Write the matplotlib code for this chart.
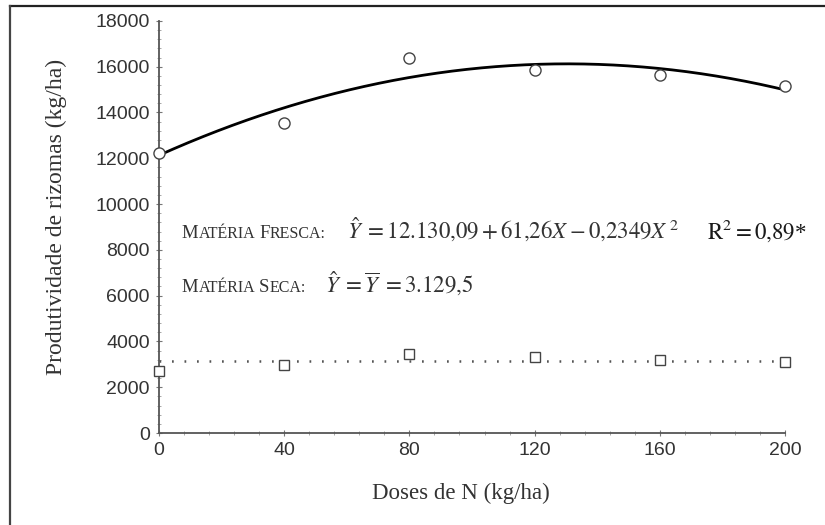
import numpy as np
import matplotlib
matplotlib.use("Agg")
import matplotlib.pyplot as plt
from matplotlib.ticker import MultipleLocator
from matplotlib.lines import Line2D

# doses de N (kg/ha)
doses = [0, 40, 80, 120, 160, 200]
# materia fresca (kg/ha) - observed
fresca = [12250, 13550, 16400, 15850, 15650, 15150]
# materia seca (kg/ha) - observed
seca = [2700, 2950, 3450, 3300, 3200, 3100]
# regression coefficients
b0, b1, b2 = 12130.09, 61.26, -0.2349
seca_mean = 3129.5

plt.rcParams['mathtext.fontset'] = 'stix'
txt_col = '#333333'
DPI = 100

fig = plt.figure(figsize=(8.25, 5.25), dpi=DPI)
ax = fig.add_axes([0.1927, 0.1752, 0.7588, 0.785])


def small_caps(x, y, words, big=13.5, small=11.5, gap=3.0):
    # fake small caps: first letter big, rest small, chained along the baseline
    r = fig.canvas.get_renderer()
    off = 0.0
    for w in words:
        for piece, size in ((w[0], big), (w[1:], small)):
            if not piece:
                continue
            t = ax.annotate(piece, xy=(x, y), xytext=(off, 0),
                            textcoords='offset points', va='baseline',
                            family='Liberation Serif', fontsize=size,
                            color=txt_col)
            off += t.get_window_extent(r).width * 72.0 / DPI
        off += gap


xx = np.linspace(0, 200, 300)
ax.plot(xx, b0 + b1 * xx + b2 * xx ** 2, color='black', lw=2.0, zorder=3)
ax.plot(doses, fresca, 'o', ms=8, mfc='white', mec='#444444', mew=1.0,
        clip_on=False, zorder=4)
ax.plot([0, 200], [seca_mean, seca_mean], color='#555555', lw=1.8,
        linestyle=(0, (0.7, 4.3)), zorder=2)
ax.plot(doses, seca, 's', ms=7.5, mfc='white', mec='#444444', mew=1.0,
        clip_on=False, zorder=4)

ax.set_xlim(0, 200)
ax.set_ylim(0, 18000)
ax.xaxis.set_major_locator(MultipleLocator(40))
ax.xaxis.set_minor_locator(MultipleLocator(8))
ax.yaxis.set_major_locator(MultipleLocator(2000))
ax.yaxis.set_minor_locator(MultipleLocator(400))
for s in ['top', 'right']:
    ax.spines[s].set_visible(False)
for s in ['left', 'bottom']:
    ax.spines[s].set_color('#555555')
    ax.spines[s].set_linewidth(1.3)
ax.tick_params(which='major', direction='inout', length=5, width=0.8,
               color='#777777', labelsize=14, labelcolor=txt_col, pad=4)
ax.tick_params(which='minor', direction='inout', length=3, width=0.6,
               color='#999999')
for lab in ax.get_xticklabels() + ax.get_yticklabels():
    lab.set_family('Liberation Sans')

ax.set_xlabel('Doses de N (kg/ha)', family='Liberation Serif', fontsize=16.5,
              color=txt_col)
ax.xaxis.set_label_coords(0.483, -0.122)
ax.set_ylabel('Produtividade de rizomas (kg/ha)', family='Liberation Serif',
              fontsize=17, color=txt_col)
ax.yaxis.set_label_coords(-0.147, 0.525)

# equations
y1, y2 = 8500, 6150
small_caps(7.3, y1, ['MATÉRIA', 'FRESCA:'])
ax.text(60.2, y1,
        r'$\hat{Y}\;=12.130{,}09+61{,}26X-0{,}2349X^{\,2}$',
        fontsize=16.5, color=txt_col, va='baseline')
ax.text(175.0, y1, r'$\mathrm{R^2=0{,}89}$*', fontsize=16.5,
        family='Liberation Serif', color='#1a1a1a', va='baseline')
small_caps(7.3, y2, ['MATÉRIA', 'SECA:'])
ax.text(53.0, y2, r'$\hat{Y}\;=\overline{Y}\;=3.129{,}5$', fontsize=16.5,
        color=txt_col, va='baseline')

# outer frame (top and left)
fig.add_artist(Line2D([9.5 / 825, 824 / 825], [1 - 5.5 / 525, 1 - 5.5 / 525],
                      color='#222222', lw=1.6, transform=fig.transFigure))
fig.add_artist(Line2D([9.5 / 825, 9.5 / 825], [0, 1 - 5.5 / 525],
                      color='#444444', lw=1.6, transform=fig.transFigure))

fig.savefig('out.png', dpi=DPI)
